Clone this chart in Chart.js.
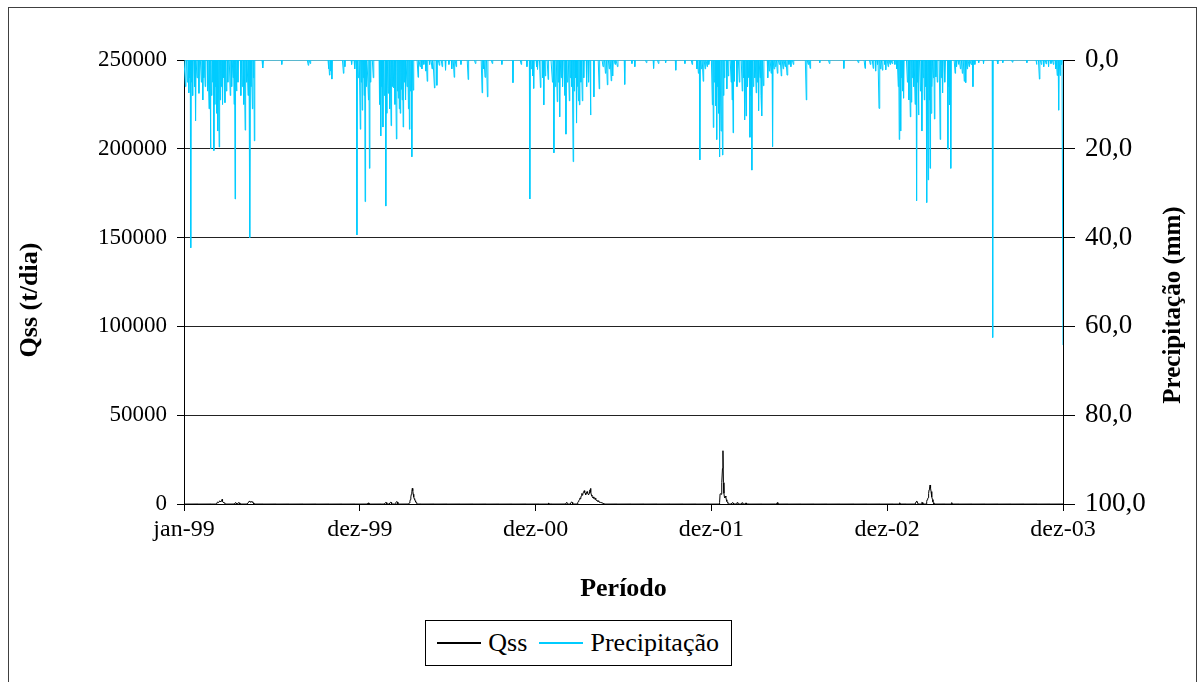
<!DOCTYPE html>
<html>
<head>
<meta charset="utf-8">
<title>Qss e Precipitação</title>
<script src="https://cdn.jsdelivr.net/npm/chart.js@4.4.1/dist/chart.umd.min.js"></script>
<style>
  body { margin: 0; background: #fff; }
  #wrap { position: relative; width: 1198px; height: 682px; }
  #legend {
    position: absolute; left: 425px; top: 620px; width: 307px; height: 46px;
    box-sizing: border-box; border: 1px solid #000; background: #fff;
    display: flex; align-items: center; padding-left: 11px;
    font-family: "Liberation Serif", "Times New Roman", serif; font-size: 26px; color: #000;
  }
  #legend .line { display: inline-block; width: 45px; height: 0; margin-right: 7px; }
  #legend .txt { margin-right: 12px; }
</style>
</head>
<body>
<div id="wrap">
  <canvas id="myChart" width="1198" height="682"></canvas>
  <div id="legend"></div>
</div>
<script>
var FONT = '"Liberation Serif", "Times New Roman", serif';
var DAYS = 1826; // 01/1999 .. 12/2003, one value per day

var tickDays = [0, 365, 730, 1095, 1460, 1825];
var tickLabels = ['jan-99', 'dez-99', 'dez-00', 'dez-01', 'dez-02', 'dez-03'];

// rainy days [day, mm]; every other day is dry (0 mm)
var chuva99 = [[3,6],[7,5],[10,7.4],[12,4],[14,42.3],[16,5],[18,8],[22,6],[24,13.7],[27,4],[31,7.5],[36,5],[39,9],[41,4],[44,6],[49,7],[52,11],[55,20],[57,8],[60,5],[62,20.4],[64,10],[66,6],[68,12],[70,16],[73,19.6],[75,9],[77,6],[80,10],[83,4],[85,9.6],[88,7],[91,5],[96,8],[99,6],[102,4],[104,10],[106,31.3],[109,7],[112,5],[118,8],[121,6],[124,10],[127,15.8],[130,5],[133,8],[137,40],[139,6],[142,11],[144,4],[146,18.2],[164,1.8],[203,1],[258,1.2],[262,0.8],[300,2],[302,3.4],[305,2.5],[307,4.3],[331,3],[334,1.5],[348,1],[355,2],[359,39.4],[362,4]];
var chuva00 = [[366,15.6],[368,5],[370,11.3],[372,4],[374,8],[376,31.9],[378,6],[383,9],[385,24.4],[387,5],[393,4],[406,10],[409,17.1],[411,6],[413,15.1],[416,8],[419,32.9],[421,12],[424,7.5],[427,11],[430,14.8],[432,6],[435,6.3],[438,10],[441,17.8],[443,7],[445,8.6],[447,11],[449,12],[451,6.6],[453,9],[455,15.1],[457,5],[460,9],[463,6],[466,11],[468,15.6],[470,7],[473,21.8],[476,6.8],[486,3.9],[490,1.5],[494,2],[498,1],[502,2.5],[505,4.8],[510,1],[515,2],[520,6.3],[525,5.7],[530,1.2],[536,1.5],[543,2.3],[550,1],[556,2],[561,3.9],[565,1.5],[575,1],[590,4.4],[605,0.8],[619,7.4],[622,2],[625,3.9],[630,8.3],[640,0.8],[660,1],[683,5.1],[700,1],[712,1.5],[718,31.3],[721,2],[724,3.6],[726,6.4]];
var chuva01 = [[732,1.5],[734,2.1],[740,6.2],[745,4],[747,10.1],[750,3.6],[756,4.4],[765,5],[768,20.9],[771,6],[775,9.4],[777,5],[780,12.8],[783,4],[786,6],[790,8],[793,16.7],[796,5],[800,9.2],[802,4],[805,6],[808,22.9],[810,7],[813,4],[815,14.2],[817,6],[819,9.2],[821,10.1],[824,5],[827,9.2],[830,4],[836,6],[840,5],[844,12.4],[851,8.3],[862,6.5],[870,1.5],[875,3],[879,5.6],[883,2],[887,4.7],[890,3.6],[895,1],[900,1.5],[915,5.5],[930,0.8],[936,1.5],[960,0.6],[975,1.9],[985,0.8],[1000,0.6],[1021,2.3],[1040,0.8],[1055,1],[1065,2],[1068,3],[1071,22.5],[1074,2],[1078,4.8],[1082,2],[1086,1.5],[1090,1]];
var chuva02 = [[1097,10.1],[1099,15.2],[1101,5],[1104,10.3],[1106,17.9],[1108,6],[1110,12],[1112,21.8],[1115,16],[1118,21.4],[1120,8],[1122,4],[1127,6.5],[1130,3.6],[1136,5],[1138,9],[1140,16.4],[1142,4.8],[1148,6],[1153,5],[1159,7],[1162,4],[1164,13.5],[1167,12.6],[1170,6],[1172,4],[1175,17.4],[1177,8],[1179,24.8],[1182,6],[1185,4],[1188,7.4],[1190,5],[1193,11.4],[1196,4],[1198,8],[1200,12.6],[1203,5.8],[1212,4],[1215,2.5],[1219,3],[1222,19.5],[1225,2],[1228,1.5],[1232,3],[1236,1],[1240,3.6],[1244,2],[1248,1.5],[1252,3.4],[1256,1],[1260,1.5],[1265,1],[1292,9],[1296,1],[1300,1.9],[1320,0.6],[1340,0.8],[1370,1.9],[1400,0.6],[1414,1.9],[1425,1],[1431,1.9],[1436,2.5],[1440,1],[1443,10.9],[1446,2],[1450,2.3],[1455,1],[1457,2.2]];
var chuva03 = [[1462,1.5],[1466,1],[1470,0.8],[1476,1],[1480,2],[1483,6],[1485,17.9],[1488,16],[1490,4],[1492,7],[1494,8.6],[1502,5],[1505,9],[1508,12.8],[1510,9.5],[1512,4],[1515,6],[1518,10],[1521,31.7],[1523,5],[1525,12.4],[1529,7],[1532,16],[1535,4],[1537,9],[1540,6],[1542,32.1],[1545,27],[1547,9],[1549,24.4],[1551,12],[1553,6],[1556,4],[1558,13.3],[1561,3.8],[1564,5],[1570,17.9],[1572,4],[1575,7.4],[1580,5],[1586,20.1],[1588,6],[1590,10.1],[1592,24.4],[1601,3],[1604,1.5],[1608,1],[1612,2],[1616,3],[1620,4.8],[1623,5.1],[1626,2],[1630,1.5],[1634,1],[1638,6],[1642,1],[1650,0.6],[1660,0.8],[1679,62.5],[1690,0.9],[1700,0.6],[1720,0.5],[1750,0.6],[1770,1],[1776,4.3],[1780,1],[1785,1.5],[1790,0.9],[1795,1.5],[1800,0.8],[1805,1],[1810,2],[1813,3.5],[1816,11.3],[1819,3.5],[1822,1],[1825,64.2]];

// sediment discharge runs [first day, [t/dia for consecutive days]]; zero outside them
var qss99 = [
  [68, [600, 900, 1200, 800, 1000, 1400, 1800, 1500, 1200, 1600, 2000, 2600, 1500, 1000, 900, 800, 600, 400]],
  [106, [500, 800, 600]], [113, [700, 900, 600]],
  [133, [800, 1200, 1500, 1700, 1400, 1200, 1000, 1300, 1500, 1200, 800, 600]]
];
var qss00 = [
  [383, [600]], [418, [700, 900, 800]], [428, [800, 1000, 900]], [440, [900, 1200, 1400, 1100]],
  [468, [600, 1500, 2500, 4000, 5500, 7000, 8800, 7500, 5500, 4000, 3000, 2500, 1800, 1200, 800, 500]]
];
var qss01 = [
  [757, [600]], [794, [800, 900]], [804, [1000, 1200, 900]],
  [818, [800, 1500, 2000, 2500, 3400, 3000, 4000, 4500, 5900, 5000, 5500, 6500, 7000, 7500, 6500, 6000, 5200,
         6000, 6800, 7000, 6200, 5500, 5200, 6000, 7200, 8000, 8800, 6500, 5000, 4500, 3800, 3500, 4000, 3200,
         2800, 3000, 3200, 2500, 2000, 2200, 1800, 1500, 1800, 1400, 1200, 1000, 900, 1100, 800, 700, 600, 500, 400]]
];
var qss02 = [
  [1112, [800, 5600, 5800, 5500, 6000, 12000, 20000, 30000, 12000, 6000, 4000, 3500, 4500, 4000, 2400, 1500, 1200, 800]],
  [1138, [600, 800, 600]], [1148, [700, 800, 700]], [1158, [600, 700, 600]], [1166, [500, 600]], [1232, [800]]
];
var qss03 = [
  [1486, [700]], [1520, [1200, 1700, 1200, 800]], [1532, [1000, 800]],
  [1542, [1500, 2400, 3000, 3500, 6000, 8000, 9000, 10700, 9000, 7000, 6600, 4000, 2500, 1200, 700]],
  [1594, [800]]
];

function dailySeries(events) {
  var values = [];
  for (var d = 0; d < DAYS; d++) values.push(0);
  for (var i = 0; i < events.length; i++) values[events[i][0]] = events[i][1];
  return values.map(function(v, d) { return { x: d, y: v }; });
}

function dailyRuns(runs) {
  var events = [];
  runs.forEach(function(r) {
    for (var k = 0; k < r[1].length; k++) events.push([r[0] + k, r[1][k]]);
  });
  return dailySeries(events);
}

// axis titles (both read bottom-to-top) and the outer frame
var decoracao = {
  id: 'decoracao',
  afterDraw: function(chart) {
    var ctx = chart.ctx;
    ctx.save();
    ctx.fillStyle = '#000';
    ctx.font = 'bold 26px ' + FONT;
    ctx.textAlign = 'center';
    ctx.textBaseline = 'middle';

    ctx.save();
    ctx.translate(30, 300);
    ctx.rotate(-Math.PI / 2);
    ctx.fillText('Qss (t/dia)', 0, 0);
    ctx.restore();

    ctx.font = 'bold 25px ' + FONT;
    ctx.save();
    ctx.translate(1174, 305);
    ctx.rotate(-Math.PI / 2);
    ctx.fillText('Precipitação (mm)', 0, 0);
    ctx.restore();

    ctx.strokeStyle = '#404040';
    ctx.lineWidth = 1;
    ctx.strokeRect(8.5, 7.5, 1188, 690);
    ctx.restore();
  }
};

function buildLegend(chart) {
  var box = document.getElementById('legend');
  chart.data.datasets.forEach(function(ds) {
    var line = document.createElement('span');
    line.className = 'line';
    line.style.borderTop = '2px solid ' + ds.borderColor;
    var txt = document.createElement('span');
    txt.className = 'txt';
    txt.textContent = ds.label;
    box.appendChild(line);
    box.appendChild(txt);
  });
}

function init() {
  var ctx = document.getElementById('myChart').getContext('2d');
  var chart = new Chart(ctx, {
    type: 'line',
    data: {
      datasets: [{
        label: 'Qss',
        data: dailyRuns(qss99.concat(qss00, qss01, qss02, qss03)),
        yAxisID: 'y',
        borderColor: '#000000',
        borderWidth: 1,
        pointRadius: 0,
        tension: 0
      }, {
        label: 'Precipitação',
        data: dailySeries(chuva99.concat(chuva00, chuva01, chuva02, chuva03)),
        yAxisID: 'y1',
        borderColor: '#00ccff',
        borderWidth: 1,
        pointRadius: 0,
        tension: 0
      }]
    },
    options: {
      responsive: false,
      animation: false,
      events: [],
      layout: { padding: { left: 0, right: 0, top: 60, bottom: 77 } },
      plugins: { legend: { display: false }, tooltip: { enabled: false } },
      scales: {
        x: {
          type: 'linear',
          min: 0,
          max: DAYS - 1,
          afterBuildTicks: function(axis) {
            axis.ticks = tickDays.map(function(v) { return { value: v }; });
          },
          afterFit: function(axis) { axis.height = 101; },
          ticks: {
            autoSkip: false,
            maxRotation: 0,
            padding: 4,
            color: '#000',
            font: { family: FONT, size: 24 },
            callback: function(v, i) { return tickLabels[i]; }
          },
          grid: { drawOnChartArea: false, tickLength: 7, color: '#000' },
          border: { color: '#000' },
          title: {
            display: true,
            text: 'Período',
            color: '#000',
            font: { family: FONT, size: 26, weight: 'bold' },
            padding: { top: 0, bottom: 0 }
          }
        },
        y: {
          position: 'left',
          min: 0,
          max: 250000,
          afterFit: function(axis) { axis.width = 184; },
          ticks: {
            stepSize: 50000,
            padding: 10,
            color: '#000',
            font: { family: FONT, size: 23 },
            callback: function(v) { return String(v); }
          },
          grid: {
            color: function(c) { return c.tick && c.tick.value === 250000 ? '#a6a6a6' : '#222'; },
            tickColor: '#000',
            tickLength: 7
          },
          border: { color: '#000' }
        },
        y1: {
          position: 'right',
          reverse: true,
          min: 0,
          max: 100,
          afterFit: function(axis) { axis.width = 135; },
          ticks: {
            stepSize: 20,
            padding: 10,
            color: '#000',
            font: { family: FONT, size: 27 },
            callback: function(v) { return v.toFixed(1).replace('.', ','); }
          },
          grid: { drawOnChartArea: false, tickLength: 12, color: '#000' },
          border: { color: '#000' }
        }
      }
    },
    plugins: [decoracao]
  });
  buildLegend(chart);
}

document.addEventListener('DOMContentLoaded', init);
</script>
</body>
</html>
